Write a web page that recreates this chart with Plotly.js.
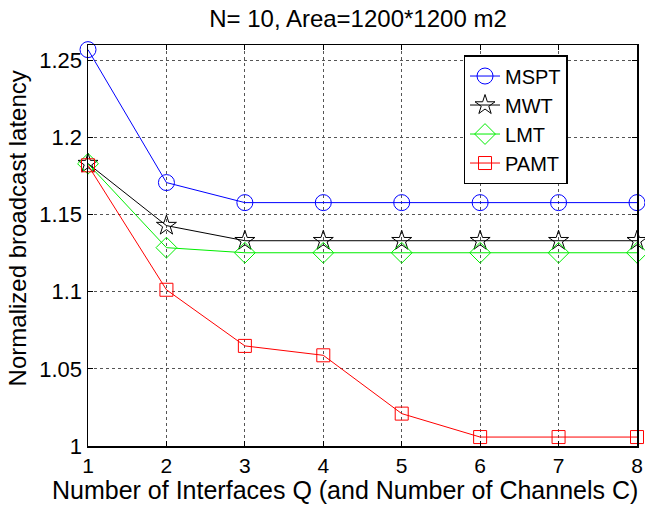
<!DOCTYPE html>
<html><head><meta charset="utf-8">
<script src="https://cdn.plot.ly/plotly-3.0.1.min.js"></script>
<style>body{margin:0;background:#fff}#c{width:645px;height:506px}</style>
</head><body><div id="c"></div>
<script>
const Q = [1, 2, 3, 4, 5, 6, 7, 8];
const MSPT = [1.257, 1.1708, 1.1578, 1.1578, 1.1578, 1.1578, 1.1578, 1.1578];
const MWT  = [1.1831, 1.1429, 1.1331, 1.1331, 1.1331, 1.1331, 1.1331, 1.1331];
const LMT  = [1.183, 1.1286, 1.1253, 1.1253, 1.1253, 1.1253, 1.1253, 1.1253];
const PAMT = [1.182, 1.1013, 1.0649, 1.0588, 1.0210, 1.0058, 1.0058, 1.0058];
const names = ['MSPT', 'MWT', 'LMT', 'PAMT'];
const series = [MSPT, MWT, LMT, PAMT];
const colors = ['#0000ff', '#000000', '#00ee00', '#ff0000'];
const symbols = ['circle-open', 'star-open', 'diamond-open', 'square-open'];
const sizes = [16, 15, 16, 13];
const traces = series.map((s, i) => ({
  x: Q, y: s, name: names[i], type: 'scatter', mode: 'lines+markers', cliponaxis: false,
  line: {color: colors[i], width: 1},
  marker: {symbol: symbols[i], size: sizes[i], color: colors[i], line: {color: colors[i], width: 1}}
}));
const font = {family: 'Liberation Sans, Arial, sans-serif', color: '#000'};
const layout = {
  width: 645, height: 506,
  margin: {l: 88, r: 8, t: 45, b: 60},
  paper_bgcolor: '#fff', plot_bgcolor: '#fff',
  font: Object.assign({size: 22}, font),
  title: {text: 'N= 10, Area=1200*1200 m2', x: 0.555, xanchor: 'center', y: 0.964, yanchor: 'middle', font: Object.assign({size: 24}, font)},
  xaxis: {
    range: [1, 8], tickvals: Q, ticktext: Q.map(String),
    showgrid: true, gridcolor: '#555', griddash: 'dot', gridwidth: 1,
    zeroline: false, showline: true, linecolor: '#000', linewidth: 1.5, mirror: 'ticks',
    ticks: 'inside', ticklen: 5, tickcolor: '#000',
    tickfont: Object.assign({size: 21}, font)
  },
  yaxis: {
    range: [1, 1.26], tickvals: [1, 1.05, 1.1, 1.15, 1.2, 1.25], ticktext: ['1', '1.05', '1.1', '1.15', '1.2', '1.25'],
    showgrid: true, gridcolor: '#555', griddash: 'dot', gridwidth: 1,
    zeroline: false, showline: true, linecolor: '#000', linewidth: 1.5, mirror: 'ticks',
    ticks: 'inside', ticklen: 5, tickcolor: '#000',
    tickfont: Object.assign({size: 22}, font)
  },
  annotations: [
    {text: 'Number of Interfaces Q (and Number of Channels C)', xref: 'paper', yref: 'paper',
     x: 0.469, y: -0.11, xanchor: 'center', yanchor: 'middle', showarrow: false, font: Object.assign({size: 25}, font)},
    {text: 'Normalized broadcast latency', xref: 'paper', yref: 'paper', textangle: -90,
     x: -0.128, y: 0.542, xanchor: 'center', yanchor: 'middle', showarrow: false, font: Object.assign({size: 24}, font)}
  ],
  legend: {
    x: 0.684, y: 0.975, xanchor: 'left', yanchor: 'top',
    bgcolor: '#fff', bordercolor: '#000', borderwidth: 1.5,
    font: Object.assign({size: 20}, font), tracegroupgap: 0
  },
  showlegend: true
};
Plotly.newPlot('c', traces, layout, {displayModeBar: false, staticPlot: true});
</script></body></html>
